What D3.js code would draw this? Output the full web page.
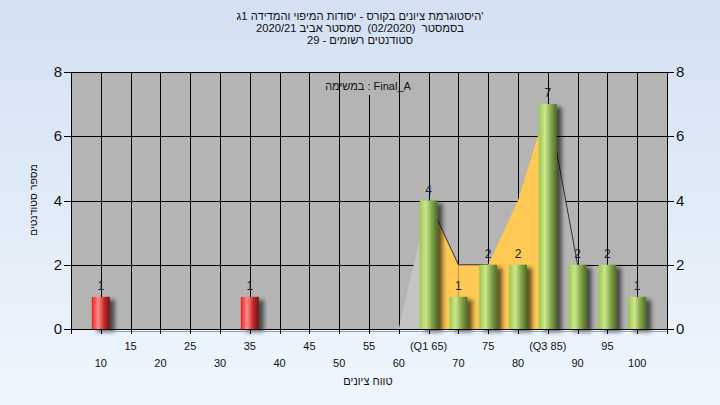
<!DOCTYPE html>
<html><head><meta charset="utf-8">
<script src="https://cdn.jsdelivr.net/npm/d3@7"></script>
<style>
html,body{margin:0;padding:0;width:720px;height:405px;overflow:hidden;}
text{font-family:"Liberation Sans",Arial,sans-serif;white-space:pre;}
</style></head>
<body>
<svg id="chart" width="720" height="405"></svg>
<script>
// ---- data ----
const categories = [10,15,20,25,30,35,40,45,50,55,60,65,70,75,80,85,90,95,100];
const tickLabels = ["10","15","20","25","30","35","40","45","50","55","60","(Q1 65)","70","75","80","(Q3 85)","90","95","100"];
const counts = [1,0,0,0,0,1,0,0,0,0,0,4,1,2,2,7,2,2,1];
const polygonValues = [null,null,null,null,null,null,null,null,null,null,0,4,2,2,4,7,2,null,null];
const q1 = 65, q3 = 85, passMark = 55;
const yTicks = [0,2,4,6,8];
const titleLines = ["היסטוגרמת ציונים בקורס - יסודות המיפוי והמדידה 1ג'",
                    "בסמסטר  (02/2020)  סמסטר אביב 2020/21",
                    "סטודנטים רשומים - 29"];
const xTitle = "טווח ציונים";
const yTitle = "מספר סטודנטים";
const annotation = "במשימה : Final_A";

// ---- layout ----
const L = 71, R = 667, T = 72, B = 329;
const svg = d3.select("#chart");
const defs = svg.append("defs");
const bg = defs.append("linearGradient").attr("id","bg").attr("x1",0).attr("y1",0).attr("x2",0).attr("y2",1);
bg.append("stop").attr("offset","0%").attr("stop-color","#d3e1f3");
bg.append("stop").attr("offset","100%").attr("stop-color","#eff6fd");
function barGrad(id, c0, c1, c2, c3){
  const g = defs.append("linearGradient").attr("id",id).attr("x1",0).attr("y1",0).attr("x2",1).attr("y2",0);
  g.append("stop").attr("offset","0%").attr("stop-color",c0);
  g.append("stop").attr("offset","35%").attr("stop-color",c1);
  g.append("stop").attr("offset","70%").attr("stop-color",c2);
  g.append("stop").attr("offset","100%").attr("stop-color",c3);
}
barGrad("gGreen","#9cc94c","#cde68f","#7ea245","#4f6a2a");
barGrad("gRed","#f02020","#ff8c8c","#c02828","#6e1414");
const f = defs.append("filter").attr("id","shadow").attr("x","-50%").attr("y","-20%").attr("width","200%").attr("height","140%");
f.append("feGaussianBlur").attr("in","SourceAlpha").attr("stdDeviation",2).attr("result","b");
f.append("feOffset").attr("in","b").attr("dx",5).attr("dy",3).attr("result","o");
f.append("feComponentTransfer").attr("in","o").attr("result","s").append("feFuncA").attr("type","linear").attr("slope",0.6);
const fm = f.append("feMerge"); fm.append("feMergeNode").attr("in","s"); fm.append("feMergeNode").attr("in","SourceGraphic");

svg.append("rect").attr("width",720).attr("height",405).attr("fill","url(#bg)");

const x = d3.scalePoint().domain(categories).range([L,R]).padding(1);
const y = d3.scaleLinear().domain([0,8]).range([B,T]);

// plot background
svg.append("rect").attr("x",L).attr("y",T).attr("width",R-L).attr("height",B-T).attr("fill","#b4b4b4");

// grid
const grid = svg.append("g").attr("stroke","#000").attr("stroke-width",1).attr("shape-rendering","crispEdges");
grid.selectAll("line.v").data(categories).enter().append("line")
  .attr("x1",d=>Math.round(x(d))+0.5).attr("x2",d=>Math.round(x(d))+0.5).attr("y1",T).attr("y2",B);
grid.selectAll("line.h").data(yTicks.filter(t=>t>0)).enter().append("line")
  .attr("x1",L).attr("x2",R).attr("y1",d=>Math.round(y(d))+0.5).attr("y2",d=>Math.round(y(d))+0.5);

// annotation backing box (hides grid behind part of the label, as in the source)
svg.append("rect").attr("x",352).attr("y",73).attr("width",40).attr("height",22).attr("fill","#b4b4b4");

// frequency polygon area
const pts = categories.map((c,i)=>({c, v: polygonValues[i]})).filter(d=>d.v!==null);
for (let i=0;i<pts.length-1;i++){
  const a = pts[i], b = pts[i+1];
  let fill;
  if (a.c >= q1 && b.c <= q3) fill = "#ffc955";
  else if (b.c <= q1) fill = "#c4c4c4";
  else fill = "#b6b6b6";
  svg.append("path")
    .attr("d", d3.area().x(d=>x(d.c)).y0(y(0)).y1(d=>y(d.v))([a,b]))
    .attr("fill", fill);
  if (b.v <= a.v && a.c >= q1){
    svg.append("path").attr("d", d3.line().x(d=>x(d.c)).y(d=>y(d.v))([a,b]))
      .attr("stroke","#333").attr("stroke-width",1).attr("fill","none");
  }
}

// bars
const bw = 18;
const barData = categories.map((c,i)=>({c, v: counts[i], label: tickLabels[i]}));
svg.append("g").selectAll("rect").data(barData.filter(d=>d.v>0)).enter().append("rect")
  .attr("x",d=>x(d.c)-bw/2).attr("width",bw)
  .attr("y",d=>y(d.v)).attr("height",d=>y(0)-y(d.v))
  .attr("fill",d=> d.c < passMark ? "url(#gRed)" : "url(#gGreen)")
  .attr("filter","url(#shadow)");
svg.append("g").selectAll("text").data(barData.filter(d=>d.v>0)).enter().append("text")
  .attr("x",d=>x(d.c)).attr("y",d=>y(d.v)-7).attr("text-anchor","middle")
  .attr("font-size",12).attr("fill","#1b1b2e").text(d=>d.v);

// floor shadow line
svg.append("line").attr("x1",x(categories[0])).attr("x2",R).attr("y1",B+2.5).attr("y2",B+2.5)
  .attr("stroke","#9aa0a8").attr("stroke-width",1);

// axes
const ax = svg.append("g").attr("stroke","#000").attr("stroke-width",1).attr("shape-rendering","crispEdges");
ax.append("line").attr("x1",L+0.5).attr("x2",L+0.5).attr("y1",T).attr("y2",B+5);
ax.append("line").attr("x1",R+0.5).attr("x2",R+0.5).attr("y1",T).attr("y2",B+5);
ax.append("line").attr("x1",L-7).attr("x2",R+7).attr("y1",B+0.5).attr("y2",B+0.5);
ax.append("line").attr("x1",L-7).attr("x2",R+7).attr("y1",T+0.5).attr("y2",T+0.5);
ax.selectAll("line.yt").data(yTicks).enter().append("line")
  .attr("x1",L-7).attr("x2",L).attr("y1",d=>Math.round(y(d))+0.5).attr("y2",d=>Math.round(y(d))+0.5);
ax.selectAll("line.yr").data(yTicks).enter().append("line")
  .attr("x1",R).attr("x2",R+7).attr("y1",d=>Math.round(y(d))+0.5).attr("y2",d=>Math.round(y(d))+0.5);
ax.selectAll("line.xt").data(categories).enter().append("line")
  .attr("x1",d=>Math.round(x(d))+0.5).attr("x2",d=>Math.round(x(d))+0.5).attr("y1",B).attr("y2",B+5);

svg.append("g").selectAll("text").data(yTicks).enter().append("text")
  .attr("x",L-9).attr("y",d=>y(d)+5).attr("text-anchor","end").attr("font-size",15).attr("fill","#111").text(d=>d);
svg.append("g").selectAll("text").data(yTicks).enter().append("text")
  .attr("x",R+9).attr("y",d=>y(d)+5).attr("text-anchor","start").attr("font-size",15).attr("fill","#111").text(d=>d);

svg.append("g").selectAll("text").data(barData).enter().append("text")
  .attr("x",d=>x(d.c)).attr("y",(d,i)=> i%2===1 ? 350 : 367)
  .attr("text-anchor","middle").attr("font-size",11).attr("fill","#111").text(d=>d.label);

// titles
svg.append("g").selectAll("text").data(titleLines).enter().append("text")
  .attr("x",360).attr("y",(d,i)=>20+i*12).attr("text-anchor","middle").attr("font-size",11.2).attr("fill","#111")
  .text(d=>d);
svg.append("text").attr("x",368).attr("y",385).attr("text-anchor","middle").attr("font-size",11).attr("fill","#111").text(xTitle);
svg.append("text").attr("transform","translate(37,200) rotate(-90)").attr("text-anchor","middle").attr("font-size",10.5).attr("fill","#111").text(yTitle);
svg.append("text").attr("x",368).attr("y",90).attr("text-anchor","middle").attr("font-size",11).attr("fill","#111").text(annotation);
</script>
</body></html>
